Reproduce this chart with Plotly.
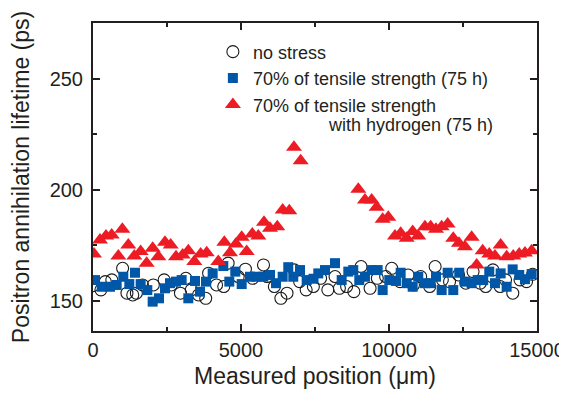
import plotly.graph_objects as go

# ---- data ----
nostress_x = [0, 268, 415, 635, 1000, 1147, 1343, 1465, 1672, 2038, 2404, 2648, 2954, 3137,
              3320, 3564, 3808, 3906, 4174, 4418, 4565, 4906, 5150, 5394, 5760, 5883, 6127,
              6347, 6554, 6798, 6981, 7201, 7445, 7689, 7933, 8177, 8324, 8568, 8812, 9056,
              9361, 9605, 9886, 10093, 10374, 10643, 10826, 11070, 11375, 11558, 11802, 12046,
              12351, 12595, 12840, 13084, 13267, 13511, 13755, 13938, 14182, 14426, 14646, 14853]
nostress_y = [156.9, 155.0, 158.7, 159.5, 164.7, 153.5, 152.7, 153.5, 157.2, 157.2, 159.5, 157.2,
              153.5, 160.2, 155.0, 152.7, 151.2, 162.5, 157.2, 156.5, 167.0, 161.0, 164.3, 160.2,
              166.2, 161.0, 156.5, 151.2, 153.5, 164.0, 158.7, 155.0, 156.5, 160.2, 155.0, 161.0,
              155.7, 156.5, 154.2, 165.5, 155.7, 160.2, 161.0, 164.7, 158.7, 161.7, 157.2, 161.0,
              156.5, 165.5, 159.5, 158.7, 161.7, 158.0, 163.2, 158.0, 156.5, 164.0, 156.5, 159.5,
              153.5, 159.5, 158.7, 162.0]

stress_x = [68, 293, 574, 799, 1024, 1227, 1419, 1610, 1835, 2016, 2230, 2432, 2601, 2804, 2995,
            3220, 3446, 3615, 3817, 4043, 4402, 4605, 4807, 5023, 5304, 5529, 5754, 5979, 6182,
            6408, 6597, 6766, 6993, 7219, 7450, 7611, 7837, 8175, 8401, 8625, 8793, 8996, 9188,
            9414, 9617, 9786, 10009, 10235, 10394, 10597, 10800, 10989, 11215, 11407, 11587,
            11779, 11982, 12171, 12374, 12566, 12792, 12995, 13184, 13387, 13580, 13772, 13975,
            14178, 14400, 14593, 14819]
stress_y = [159.4, 156.4, 156.4, 157.2, 160.9, 157.6, 162.7, 157.6, 154.9, 149.7, 151.2, 155.7,
            158.0, 158.7, 159.4, 151.2, 159.0, 154.2, 158.7, 162.4, 165.7, 158.7, 163.2, 157.6,
            160.9, 160.9, 160.9, 161.7, 158.0, 160.9, 165.2, 160.9, 163.9, 159.4, 160.0, 162.4,
            163.9, 167.0, 159.4, 163.2, 163.9, 159.4, 160.9, 163.9, 163.9, 154.9, 159.4, 159.0,
            162.7, 158.0, 156.4, 160.9, 158.0, 158.0, 160.9, 154.9, 162.7, 154.9, 162.7, 158.7,
            158.0, 159.4, 159.4, 163.2, 158.0, 162.4, 156.4, 164.2, 161.7, 159.8, 162.1]

hydrogen_x = [34, 236, 439, 631, 856, 991, 1193, 1396, 1610, 1813, 2016, 2207, 2432, 2624, 2804,
              3029, 3220, 3423, 3638, 3841, 4234, 4436, 4628, 4831, 5023, 5192, 5382, 5585, 5777,
              5979, 6226, 6408, 6631, 6790, 7016,
              8963, 9188, 9414, 9583, 9786, 9976, 10202, 10394, 10597, 10800, 10989, 11215, 11407,
              11587, 11779, 11982, 12171, 12363, 12566, 12792, 12961, 13164, 13387, 13580, 13772,
              13975, 14198, 14400, 14593, 14819]
hydrogen_y = [171.1, 177.4, 179.2, 179.7, 170.2, 182.2, 175.2, 170.2, 172.2, 167.0, 173.7, 169.9,
              176.4, 175.2, 169.9, 170.7, 172.6, 167.7, 171.1, 171.7, 167.7, 176.4, 171.7, 175.6,
              178.7, 172.2, 180.1, 179.2, 185.4, 182.7, 183.4, 190.9, 190.6, 219.1, 213.1,
              200.2, 195.4, 195.4, 192.1, 186.7, 187.6, 179.2, 180.4, 178.2, 181.2, 179.2, 183.4,
              183.4, 182.2, 183.4, 184.6, 178.2, 176.0, 174.4, 178.7, 166.2, 172.6, 171.1, 170.2,
              175.2, 169.9, 170.2, 171.1, 171.6, 172.6]

series_names = ["no stress",
                "70% of tensile strength (75 h)",
                "70% of tensile strength"]
series_name_extra = "with hydrogen (75 h)"

x_ticks = [0, 5000, 10000, 15000]
y_ticks = [150, 200, 250]

TXT = "#231f20"
FONT = "Liberation Sans, Arial, Helvetica, sans-serif"

fig = go.Figure()
fig.add_trace(go.Scatter(x=nostress_x, y=nostress_y, mode="markers", name=series_names[0],
                         marker=dict(symbol="circle-open", size=12, color="#1a1a1a",
                                     line=dict(width=1.1, color="#1a1a1a"))))
fig.add_trace(go.Scatter(x=stress_x, y=stress_y, mode="markers", name=series_names[1],
                         marker=dict(symbol="square", size=10, color="#0057a8",
                                     line=dict(width=0))))
fig.add_trace(go.Scatter(x=hydrogen_x, y=hydrogen_y, mode="markers", name=series_names[2],
                         marker=dict(symbol="triangle-up", size=14, color="#ed1c24",
                                     line=dict(width=0))))

axis_common = dict(showline=True, linecolor="#231f20", linewidth=2, mirror="allticks",
                   ticks="inside", tickcolor="#231f20", tickwidth=1.5, ticklen=7,
                   showgrid=False, zeroline=False,
                   tickfont=dict(family=FONT, size=20, color=TXT))

fig.update_xaxes(range=[0, 15000], tickvals=x_ticks, ticktext=[str(v) for v in x_ticks],
                 minor=dict(dtick=2500, tick0=0, ticks="inside", ticklen=4, tickwidth=1.5,
                            tickcolor="#231f20", showgrid=False),
                 title=dict(text="Measured position (μm)", font=dict(family=FONT, size=23, color=TXT),
                            standoff=8),
                 ticklabelstandoff=0,
                 **axis_common)
fig.update_yaxes(range=[136.5, 275], tickvals=y_ticks, ticktext=[str(v) for v in y_ticks],
                 minor=dict(dtick=25, tick0=0, ticks="inside", ticklen=4, tickwidth=1.5,
                            tickcolor="#231f20", showgrid=False),
                 title=dict(text="Positron annihilation lifetime (ps)",
                            font=dict(family=FONT, size=23, color=TXT), standoff=17),
                 ticklabelstandoff=4,
                 **axis_common)

fig.add_annotation(text=series_name_extra, xref="paper", yref="paper",
                   x=0.905, y=0.669, xanchor="right", yanchor="middle", showarrow=False,
                   font=dict(family=FONT, size=18, color=TXT))

# page body adds an 8px offset; figure is sized to fit the window
fig.update_layout(
    width=559, height=386,
    margin=dict(l=85, r=30, t=15, b=63, autoexpand=False),
    paper_bgcolor="white", plot_bgcolor="white",
    font=dict(family=FONT, color=TXT),
    showlegend=True,
    legend=dict(x=0.27, y=0.966, xanchor="left", yanchor="top",
                bgcolor="rgba(0,0,0,0)", borderwidth=0, valign="middle",
                font=dict(family=FONT, size=18, color=TXT),
                itemsizing="trace", tracegroupgap=0),
)

fig.write_html("out.html")
